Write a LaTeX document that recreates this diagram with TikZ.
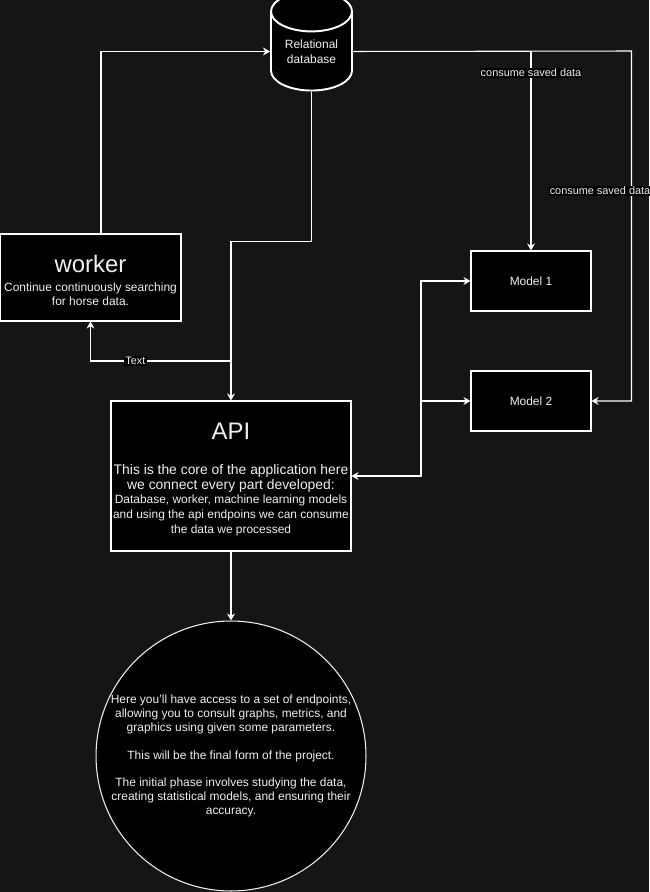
\documentclass[tikz,border=0pt]{standalone}
\usepackage{fontspec}
\setmainfont{Liberation Sans}
\usetikzlibrary{shapes.geometric}
\usetikzlibrary{arrows.meta}
\definecolor{canvas}{RGB}{21,21,21}
\definecolor{ink}{RGB}{240,240,240}
\tikzset{
    every node/.style={text=ink},
    box/.style={
        draw=white,
        fill=black,
        line width=0.6pt,
        align=center,
        inner sep=0pt,
        font=\fontsize{6.8}{7.9}\selectfont},
    store/.style={
        cylinder,
        shape border rotate=90,
        aspect=0.75,
        draw=white,
        fill=black,
        line width=1.1pt,
        align=center,
        inner sep=0pt,
        font=\fontsize{6.8}{8.5}\selectfont},
    goal/.style={
        circle,
        draw=ink,
        fill=black,
        line width=0.6pt,
        minimum size=5.4cm,
        align=center,
        inner sep=0pt,
        font=\fontsize{6.8}{7.94}\selectfont},
    tag/.style={
        fill=black,
        inner sep=0.6pt,
        font=\fontsize{6.2}{7}\selectfont},
    link/.style={
        draw=white,
        line width=0.6pt,
        -{Stealth[length=4pt,width=4.5pt]}},
    both/.style={
        link,
        {Stealth[length=4pt,width=4.5pt]}-{Stealth[length=4pt,width=4.5pt]}}}

\begin{document}
\begin{tikzpicture}[x=0.02cm,y=-0.02cm]
    \fill[canvas] (0,0) rectangle (649,892);
    \useasboundingbox (0,0) rectangle (649,892);

    \node[store,minimum width=1.62cm,minimum height=1.98cm] (db) at (311.5,51.5) {Relational\\database};
    \node[box,minimum width=3.62cm,minimum height=1.74cm] (worker) at (90.5,277.5)
        {\rule{0pt}{13.3pt}{\fontsize{13.6}{16}\selectfont worker}\\[2.7pt]Continue continuously searching\\for horse data.};
    \node[box,minimum width=2.4cm,minimum height=1.2cm] (model1) at (531,281) {Model 1};
    \node[box,minimum width=2.4cm,minimum height=1.2cm] (model2) at (531,401) {Model 2};
    \node[box,minimum width=4.8cm,minimum height=3cm,font=\fontsize{6.8}{8.6}\selectfont] (api) at (231,476)
        {\rule{0pt}{13.2pt}{\fontsize{13.6}{16}\selectfont API}\\[11.3pt]
         {\fontsize{7.9}{9}\selectfont This is the core of the application here}\\
         {\fontsize{7.9}{9}\selectfont we connect every part developed:}\\[-0.8pt]
         Database, worker, machine learning models\\
         and using the api endpoins we can consume\\
         the data we processed};
    \node[goal] (final) at (231,756)
        {Here you'll have access to a set of endpoints,\\
         allowing you to consult graphs, metrics, and\\
         graphics using given some parameters.\\[7.94pt]
         This will be the final form of the project.\\[7.94pt]
         The initial phase involves studying the data,\\
         creating statistical models, and ensuring their\\
         accuracy.};

    \coordinate (split) at (231,361);
    \coordinate (hub) at (421,476);
    \coordinate (east) at (631.5,51);

    \draw[link] ([xshift=0.21cm]worker.north) |- (db.west);
    \draw[link] (db.south) -- ++(0,150) -| (api.north);
    \draw[link] (split) -| node[tag,pos=0.34] {Text} (worker.south);
    \draw[link] (db.east) -| node[tag,pos=0.553] {consume saved data} (model1.north);
    \draw[link] (db.east) -- (east) |- node[tag,pos=0.2,xshift=-0.63cm] {consume saved data} (model2.east);
    \draw[both] (api.east) -- (hub) |- (model1.west);
    \draw[link] (hub |- model2.west) -- (model2.west);
    \draw[link] (api.south) -- (final.north);
\end{tikzpicture}
\end{document}
